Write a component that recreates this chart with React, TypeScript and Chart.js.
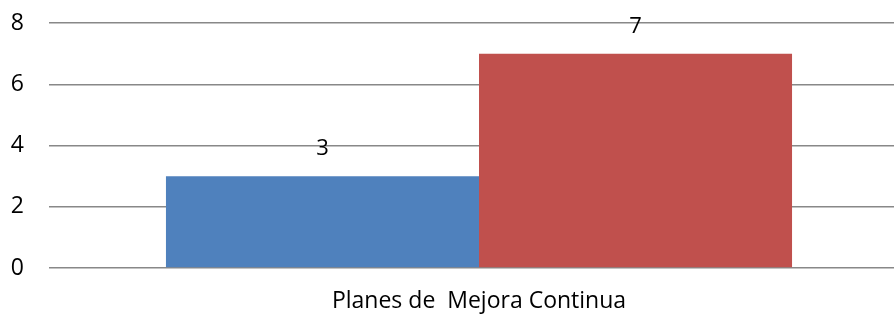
import React, { useEffect, useRef } from "react";
import { Chart, registerables } from "chart.js";

Chart.register(...registerables);

const categories = ["Planes de  Mejora Continua"];
const seriesA = [3];
const seriesB = [7];
const seriesColors = ["#4F81BD", "#C0504D"];
const yTicks = [0, 2, 4, 6, 8];

const valueLabels = {
  id: "valueLabels",
  afterDatasetsDraw(chart: any) {
    const ctx = chart.ctx;
    ctx.save();
    ctx.fillStyle = "#000";
    ctx.font = "22px 'Open Sans'";
    ctx.textAlign = "center";
    ctx.textBaseline = "middle";
    chart.data.datasets.forEach((ds: any, i: number) => {
      const meta = chart.getDatasetMeta(i);
      meta.data.forEach((bar: any, j: number) => {
        ctx.fillText(String(ds.data[j]), bar.x, bar.y - 27);
      });
    });
    ctx.restore();
  },
};

export default function App() {
  const ref = useRef<HTMLCanvasElement>(null);
  useEffect(() => {
    const chart = new Chart(ref.current!, {
      type: "bar",
      data: {
        labels: categories,
        datasets: [
          { data: seriesA, backgroundColor: seriesColors[0], borderWidth: 0 },
          { data: seriesB, backgroundColor: seriesColors[1], borderWidth: 0 },
        ],
      },
      options: {
        animation: false,
        responsive: false,
        maintainAspectRatio: false,
        layout: { padding: { top: 23, right: 1, left: 0, bottom: 0 } },
        plugins: { legend: { display: false }, tooltip: { enabled: false } },
        datasets: { bar: { categoryPercentage: 0.728, barPercentage: 1 } },
        scales: {
          x: {
            grid: { display: false, drawTicks: false },
            border: { display: false },
            ticks: { color: "#000", font: { family: "'Open Sans'", size: 23 }, padding: 20 },
            afterFit: (s: any) => { s.height = 48; s.paddingLeft = 0; s.paddingRight = 0; },
          },
          y: {
            min: 0,
            max: 8,
            afterBuildTicks: (s: any) => { s.ticks = yTicks.map((v) => ({ value: v })); },
            grid: { color: "#888888", lineWidth: 1.4, drawTicks: false },
            border: { display: false },
            ticks: { color: "#000", font: { family: "'Open Sans'", size: 23 }, padding: 25 },
            afterFit: (s: any) => { s.width = 49; s.paddingTop = 0; s.paddingBottom = 0; },
          },
        },
      },
      plugins: [valueLabels],
    });
    return () => chart.destroy();
  }, []);
  return (
    <div style={{ position: "fixed", left: 0, top: 0, width: 894, height: 316, overflow: "hidden", background: "#fff" }}>
      <canvas ref={ref} width={910} height={316} style={{ display: "block" }} />
    </div>
  );
}
